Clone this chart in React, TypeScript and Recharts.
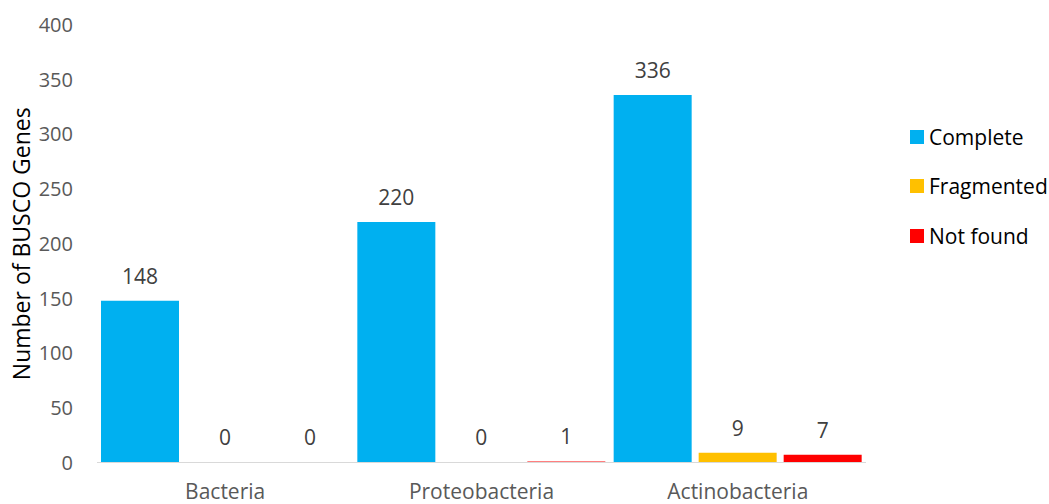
import { BarChart, Bar, XAxis, YAxis, LabelList } from "recharts";

const categories = ["Bacteria", "Proteobacteria", "Actinobacteria"];
const complete = [148, 220, 336];
const fragmented = [0, 0, 9];
const notFound = [0, 1, 7];
const yTicks = [0, 50, 100, 150, 200, 250, 300, 350, 400];

const series = [
  { key: "complete", name: "Complete", color: "#00B0F0" },
  { key: "fragmented", name: "Fragmented", color: "#FFC000" },
  { key: "notFound", name: "Not found", color: "#FF0000" },
];

const data = categories.map((name, i) => ({
  name,
  complete: complete[i],
  fragmented: fragmented[i],
  notFound: notFound[i],
}));

const font = "'Open Sans', sans-serif";

// Label drawn by hand so that zero values still show
const valueLabel = (props: any) => {
  const { x, y, width, value } = props;
  return (
    <text
      x={Number(x) + Number(width) / 2}
      y={Number(y) - 17}
      textAnchor="middle"
      fill="#404040"
      fontSize={21}
      fontFamily={font}
    >
      {value}
    </text>
  );
};

export default function App() {
  return (
    <div style={{ position: "absolute", left: 0, top: 0, width: 1049, height: 504, background: "#fff", fontFamily: font }}>
      <BarChart
        width={1049}
        height={504}
        data={data}
        margin={{ top: 25, right: 183, bottom: 11.5, left: 0 }}
        barSize={78}
        barGap={7}
      >
        <XAxis
          dataKey="name"
          height={30}
          axisLine={{ stroke: "#D9D9D9", strokeWidth: 1 }}
          tickLine={false}
          tickMargin={16}
          tick={{ fill: "#595959", fontSize: 21, fontFamily: font }}
        />
        <YAxis
          width={97}
          domain={[0, 400]}
          ticks={yTicks}
          axisLine={false}
          tickLine={false}
          tickMargin={18}
          tick={{ fill: "#595959", fontSize: 20, fontFamily: font }}
          label={({ viewBox }: any) => {
            const cy = viewBox.y + viewBox.height / 2;
            return (
              <text
                x={21}
                y={cy}
                transform={`rotate(-90, 21, ${cy})`}
                textAnchor="middle"
                dominantBaseline="central"
                fill="#000"
                fontSize={23}
                fontFamily={font}
              >
                Number of BUSCO Genes
              </text>
            );
          }}
        />
        {series.map((s) => (
          <Bar
            key={s.key}
            dataKey={s.key}
            name={s.name}
            fill={s.color}
            minPointSize={0.01}
            isAnimationActive={false}
          >
            <LabelList dataKey={s.key} content={valueLabel} />
          </Bar>
        ))}
      </BarChart>
      <div style={{ position: "absolute", left: 910, top: 112 }}>
        {series.map((s) => (
          <div key={s.key} style={{ display: "flex", alignItems: "center", height: 49.5 }}>
            <span style={{ width: 14, height: 14, background: s.color, display: "inline-block", marginRight: 5 }} />
            <span style={{ fontSize: 21, color: "#000", fontFamily: font }}>{s.name}</span>
          </div>
        ))}
      </div>
    </div>
  );
}
